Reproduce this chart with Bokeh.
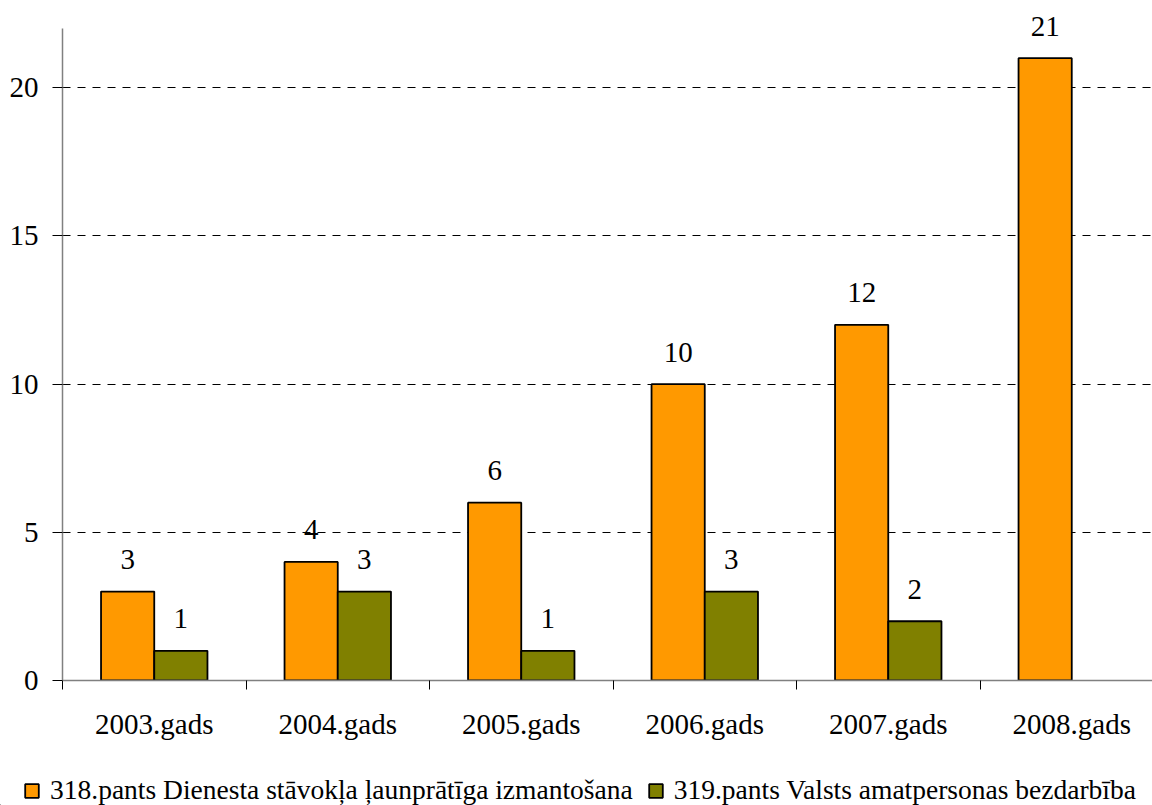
from bokeh.plotting import figure
from bokeh.layouts import column
from bokeh.models import ColumnDataSource, FixedTicker, Legend, LegendItem, Range1d
from bokeh.embed import file_html
from bokeh.resources import INLINE
from bokeh.core.properties import value

years = ["2003.gads", "2004.gads", "2005.gads", "2006.gads", "2007.gads", "2008.gads"]
series_318 = [3, 4, 6, 10, 12, 21]
series_319 = [1, 3, 1, 3, 2, None]
name_318 = "318.pants Dienesta stāvokļa ļaunprātīga izmantošana"
name_319 = "319.pants Valsts amatpersonas bezdarbība"

FONT = "Liberation Serif"
FS = "29px"
FS_LEG = "27.5px"
ORANGE = "#FF9900"
OLIVE = "#808000"
BW = 0.29
Y_AXIS_MAX = 22

centers = [i + 0.5 for i in range(len(years))]
bounds = [float(i) for i in range(len(years) + 1)]

x318 = [c - BW / 2 for c in centers]
x319 = [c + BW / 2 for c in centers]

src318 = ColumnDataSource(dict(x=x318, top=series_318, lbl=[str(v) for v in series_318]))
idx = [i for i, v in enumerate(series_319) if v is not None]
src319 = ColumnDataSource(dict(x=[x319[i] for i in idx], top=[series_319[i] for i in idx],
                               lbl=[str(series_319[i]) for i in idx]))

# frame extends above the axis top so the top data label is not clipped
H1 = 760
AXIS_TOP_PX = 28
FRAME_TOP_PX = 4
ZERO_PX = 680
ppu = (ZERO_PX - AXIS_TOP_PX) / Y_AXIS_MAX
y_end = (ZERO_PX - FRAME_TOP_PX) / ppu

p = figure(width=1152, height=H1, x_range=Range1d(0, 5.94), y_range=Range1d(0, y_end),
           output_backend="svg", toolbar_location=None,
           min_border_left=62, min_border_right=0, min_border_top=FRAME_TOP_PX,
           min_border_bottom=H1 - ZERO_PX)
p.outline_line_color = None
p.background_fill_color = "white"
p.border_fill_color = "white"
p.frame_align = False

r1 = p.vbar(x="x", top="top", width=BW, bottom=0, source=src318,
            fill_color=ORANGE, line_color="black", line_width=1.8)
r2 = p.vbar(x="x", top="top", width=BW, bottom=0, source=src319,
            fill_color=OLIVE, line_color="black", line_width=1.8)

for src in (src318, src319):
    p.text(x="x", y="top", text="lbl", source=src, text_align="center",
           text_baseline="alphabetic", y_offset=-32, text_font=value(FONT),
           text_font_size=FS, text_color="black")

# x axis
xa = p.xaxis[0]
xa.ticker = FixedTicker(ticks=centers, minor_ticks=bounds)
xa.major_label_overrides = {c: y for c, y in zip(centers, years)}
xa.major_tick_out = 0
xa.major_tick_in = 0
xa.minor_tick_out = 9
xa.minor_tick_in = 0
xa.minor_tick_line_color = "black"
xa.minor_tick_line_width = 1
xa.axis_line_color = "#808080"
xa.axis_line_width = 1.5
xa.major_label_text_font = FONT
xa.major_label_text_font_size = FS
xa.major_label_text_color = "black"
xa.major_label_standoff = 18

# y axis
ya = p.yaxis[0]
ya.bounds = (0, Y_AXIS_MAX)
ya.ticker = FixedTicker(ticks=[0, 5, 10, 15, 20], minor_ticks=[])
ya.major_tick_out = 10
ya.major_tick_in = 0
ya.minor_tick_out = 0
ya.major_tick_line_color = "black"
ya.axis_line_color = "#808080"
ya.axis_line_width = 1.5
ya.major_label_text_font = FONT
ya.major_label_text_font_size = FS
ya.major_label_text_color = "black"
ya.major_label_standoff = 14

p.xgrid.visible = False
p.ygrid.ticker = FixedTicker(ticks=[5, 10, 15, 20], minor_ticks=[])
p.ygrid.grid_line_color = "black"
p.ygrid.grid_line_width = 1
p.ygrid.grid_line_dash = "8 7"

# legend strip below the chart
p2 = figure(width=1152, height=805 - H1, x_range=Range1d(0, 1), y_range=Range1d(0, 1),
            output_backend="svg", toolbar_location=None,
            min_border_left=0, min_border_right=0, min_border_top=0, min_border_bottom=0,
            x_axis_location=None, y_axis_location=None)
p2.outline_line_color = None
p2.xgrid.visible = False
p2.ygrid.visible = False
p2.frame_align = False
dummy = ColumnDataSource(dict(x=[-10.0], top=[-10.0]))
d1 = p2.vbar(x="x", top="top", width=0.1, source=dummy, fill_color=ORANGE, line_color="black", line_width=1.8)
d2 = p2.vbar(x="x", top="top", width=0.1, source=dummy, fill_color=OLIVE, line_color="black", line_width=1.8)

legend = Legend(items=[LegendItem(label=name_318, renderers=[d1]),
                       LegendItem(label=name_319, renderers=[d2])],
                location=(23, -1), orientation="horizontal",
                glyph_width=17, glyph_height=17, label_standoff=10, spacing=14,
                padding=0, margin=0, border_line_color=None, background_fill_alpha=0,
                label_text_font=FONT, label_text_font_size=FS_LEG, label_text_color="black")
p2.add_layout(legend, "center")

layout = column(p, p2, spacing=0)
open("out.html", "w").write(file_html(layout, INLINE))
